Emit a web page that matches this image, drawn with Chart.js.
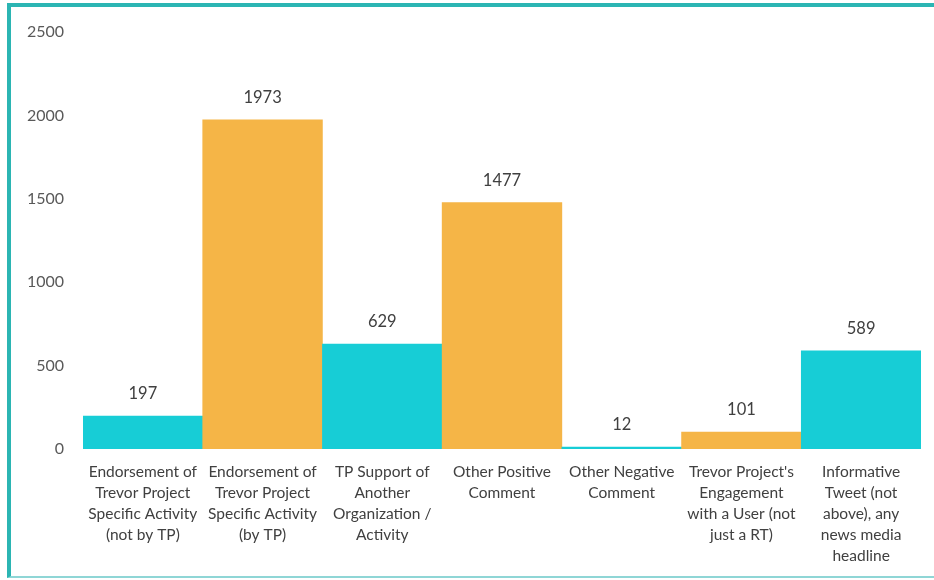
<!DOCTYPE html>
<html>
<head>
<meta charset="utf-8">
<script src="https://cdn.jsdelivr.net/npm/chart.js@4"></script>
<style>
  body { margin: 0; background: #fff; }
  #frame {
    position: absolute; left: 7px; top: 3px; width: 927px; height: 575px;
    border-left: 4px solid #2bb5b3; border-top: 4px solid #2bb5b3;
    border-bottom: 2px solid #8fd6d6; box-sizing: border-box;
  }
  #wrap { position: absolute; left: 0; top: 0; width: 934px; height: 580px; }
</style>
</head>
<body>
<div id="frame"></div>
<div id="wrap"><canvas id="chart" width="934" height="580"></canvas></div>
<script>
const categories = [
    ['Endorsement of', 'Trevor Project', 'Specific Activity', '(not by TP)'],
    ['Endorsement of', 'Trevor Project', 'Specific Activity', '(by TP)'],
    ['TP Support of', 'Another', 'Organization /', 'Activity'],
    ['Other Positive', 'Comment'],
    ['Other Negative', 'Comment'],
    ["Trevor Project's", 'Engagement', 'with a User (not', 'just a RT)'],
    ['Informative', 'Tweet (not', 'above), any', 'news media', 'headline']
];
const counts = [197, 1973, 629, 1477, 12, 101, 589];
const yTicks = [0, 500, 1000, 1500, 2000, 2500];

const teal = '#17cdd6';
const orange = '#f5b547';
const barColors = [teal, orange, teal, orange, teal, orange, teal];
const font = "Lato, 'Open Sans', sans-serif";

// draws the count above each bar
const valueLabels = {
    id: 'valueLabels',
    afterDatasetsDraw(chart) {
        const ctx = chart.ctx;
        const meta = chart.getDatasetMeta(0);
        ctx.save();
        ctx.font = '16.5px ' + font;
        ctx.fillStyle = '#404040';
        ctx.textAlign = 'center';
        ctx.textBaseline = 'middle';
        meta.data.forEach((bar, i) => {
            ctx.fillText(String(counts[i]), bar.x, bar.y - 22);
        });
        ctx.restore();
    }
};

const ctx = document.getElementById('chart').getContext('2d');
const chart = new Chart(ctx, {
    type: 'bar',
    data: {
        labels: categories,
        datasets: [{
            data: counts,
            backgroundColor: barColors,
            borderWidth: 0,
            categoryPercentage: 1,
            barPercentage: 1
        }]
    },
    options: {
        responsive: false,
        animation: false,
        layout: { padding: { top: 32, right: 13, left: 0, bottom: 0 } },
        plugins: {
            legend: { display: false },
            tooltip: { enabled: false }
        },
        scales: {
            x: {
                grid: { display: false, drawTicks: false },
                border: { display: false },
                ticks: {
                    color: '#404040',
                    font: { family: font, size: 15.5, lineHeight: 1.36 },
                    padding: 12,
                    maxRotation: 0,
                    autoSkip: false
                },
                afterFit(scale) { scale.height = 131; }
            },
            y: {
                min: 0,
                max: 2500,
                grid: { display: false, drawTicks: false },
                border: { display: false },
                afterBuildTicks(scale) { scale.ticks = yTicks.map(v => ({ value: v })); },
                ticks: {
                    color: '#595959',
                    font: { family: font, size: 16 },
                    padding: 19,
                    callback: v => String(v)
                },
                afterFit(scale) { scale.width = 83; }
            }
        }
    },
    plugins: [valueLabels]
});
</script>
</body>
</html>
